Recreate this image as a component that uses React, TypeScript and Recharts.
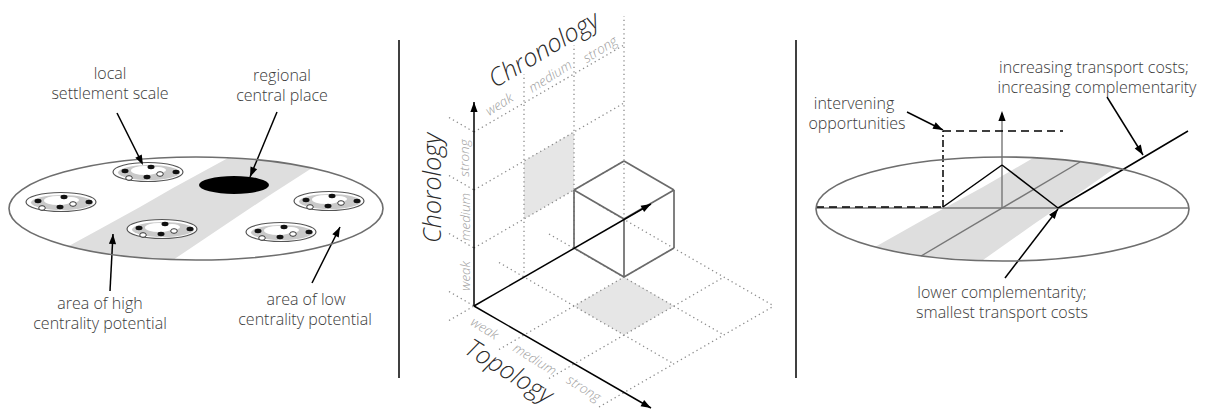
import React from 'react';
import { ComposedChart, XAxis, YAxis, Area, Scatter, ReferenceLine } from 'recharts';

type Seg = [number, number, number, number];

const W = 1207;
const H = 410;

// panel separators
const dividers: Seg[] = [
  [399, 40, 399, 378],
  [796, 40, 796, 378],
];

// ---------- left panel ----------
const regionEllipses = [
  { x: 196, y: 208.5, rx: 187, ry: 51.5 },
  { x: 1002.5, y: 209, rx: 186.5, ry: 52 },
];
const centralPlace = [{ x: 234, y: 185, rx: 35, ry: 9 }];
const settlements = [
  { x: 148, y: 172 },
  { x: 61, y: 202 },
  { x: 162, y: 229 },
  { x: 329, y: 201 },
  { x: 281, y: 232 },
];
const settlementBlackDots = [[-23, -1], [3, -5], [-1, 5], [28, 0]];
const settlementWhiteDots = [[12, 2], [-19, 6]];

// band of high centrality: [top, bottom] per x
const leftBand = [
  { x: 67, band: [247, 247] },
  { x: 100, band: [229, 253] },
  { x: 140, band: [207, 257.5] },
  { x: 173, band: [188, 260] },
  { x: 228, band: [158, 223] },
  { x: 270, band: [161, 195] },
  { x: 312, band: [168, 168] },
];

const arrows: Seg[] = [
  [117, 113, 143, 165],
  [277, 112, 250, 177],
  [110, 291, 113, 234],
  [312, 283, 340, 227],
  [907, 112, 943, 130],
  [1107, 97, 1143, 155],
  [1005, 278, 1058, 209],
];

const leftText = [
  { x: 110, y: 79, text: 'local' },
  { x: 110, y: 99, text: 'settlement scale' },
  { x: 282, y: 81, text: 'regional' },
  { x: 282, y: 101, text: 'central place' },
  { x: 100, y: 309, text: 'area of high' },
  { x: 100, y: 329, text: 'centrality potential' },
  { x: 306, y: 305, text: 'area of low' },
  { x: 305, y: 325, text: 'centrality potential' },
];

// ---------- middle panel ----------
const axes3d: Seg[] = [
  [474, 306, 474, 102],
  [474, 306, 651, 204],
  [474, 306, 651, 408],
];
const floorGrid: Seg[] = [
  [449, 320.5, 474, 306],
  [499, 349.5, 674, 248],
  [549, 378.5, 724, 277],
  [599, 407, 774, 306],
  [449, 291.5, 474, 306],
  [499, 262.5, 674, 364],
  [549, 234, 724, 335],
  [599, 205, 774, 306],
];
const wallGrid: Seg[] = [
  [524, 277, 524, 74],
  [574, 248, 574, 45],
  [624, 219, 624, 16],
  [474, 248, 624, 161],
  [474, 190, 624, 103],
  [474, 132, 624, 45],
  [449, 233.5, 474, 248],
  [449, 175.5, 474, 190],
  [449, 117.5, 474, 132],
];
const cubeEdges: Seg[] = [
  [574, 190, 624, 161],
  [624, 161, 674, 190],
  [674, 190, 624, 219],
  [624, 219, 574, 190],
  [574, 190, 574, 248],
  [624, 219, 624, 277],
  [674, 190, 674, 248],
  [574, 248, 624, 277],
  [624, 277, 674, 248],
];
const wallShade = [
  { x: 524, band: [161, 219] },
  { x: 574, band: [132, 190] },
];
const floorShade = [
  { x: 574, band: [306, 306] },
  { x: 624, band: [277, 335] },
  { x: 674, band: [306, 306] },
];
const axisTitles = [
  { x: 543, y: 48, text: 'Chronology', angle: -31 },
  { x: 431, y: 188, text: 'Chorology', angle: -90 },
  { x: 510, y: 370, text: 'Topology', angle: 32 },
];
const levels = ['weak', 'medium', 'strong'];
const chorologyTicks = [{ x: 465, y: 276 }, { x: 465, y: 217 }, { x: 464, y: 158 }];
const chronologyTicks = [{ x: 499, y: 104 }, { x: 550, y: 76 }, { x: 600, y: 49 }];
const topologyTicks = [{ x: 485, y: 328 }, { x: 535, y: 359 }, { x: 584, y: 388 }];

// ---------- right panel ----------
const rightBand = [
  { x: 875, band: [247, 247] },
  { x: 930, band: [216, 257] },
  { x: 983, band: [187, 260] },
  { x: 1034, band: [157.5, 224] },
  { x: 1075, band: [161, 196] },
  { x: 1115, band: [168, 168] },
];
const rightGray: Seg[] = [
  [816, 208, 1189, 208],
  [921, 256, 1080, 162],
  [1002, 208, 1002, 113],
];
const rightSolid: Seg[] = [
  [943, 207, 1002, 165],
  [1002, 165, 1058, 208],
  [1058, 208, 1188, 131],
];
const rightDashed: Seg[] = [
  [816, 207, 943, 207],
  [943, 131, 1063, 131],
];
const rightDashDot: Seg[] = [[943, 207, 943, 131]];
const rightText = [
  { x: 854, y: 109, text: 'intervening' },
  { x: 857, y: 129, text: 'opportunities' },
  { x: 1094, y: 73, text: 'increasing transport costs;' },
  { x: 1097, y: 93, text: 'increasing complementarity' },
  { x: 1002, y: 298, text: 'lower complementarity;' },
  { x: 1002, y: 318, text: 'smallest transport costs' },
];

const FONT = '"Open Sans", "DejaVu Sans", sans-serif';

const heads = [...arrows, ...axes3d, [1002, 208, 1002, 111] as Seg].map(([x1, y1, x2, y2]) => ({
  x: x2,
  y: y2,
  fx: x1,
  fy: y1,
}));

const ArrowHead = (p: any) => {
  const { cx, cy, payload } = p;
  const a = Math.atan2(payload.y - payload.fy, payload.x - payload.fx);
  const L = 10;
  const w = 3.6;
  const bx = cx - L * Math.cos(a);
  const by = cy - L * Math.sin(a);
  const px = -Math.sin(a) * w;
  const py = Math.cos(a) * w;
  return <polygon points={`${cx},${cy} ${bx + px},${by + py} ${bx - px},${by - py}`} fill="#000" />;
};

const OutlineEllipse = (p: any) => (
  <ellipse cx={p.cx} cy={p.cy} rx={p.payload.rx} ry={p.payload.ry} fill="none" stroke="#6e6e6e" strokeWidth={1.6} />
);
const SolidEllipse = (p: any) => <ellipse cx={p.cx} cy={p.cy} rx={p.payload.rx} ry={p.payload.ry} fill="#000" />;

const Settlement = (p: any) => {
  const { cx, cy } = p;
  return (
    <g>
      <ellipse cx={cx} cy={cy} rx={35} ry={9.5} fill="#fff" stroke="#555" strokeWidth={1.2} />
      <ellipse cx={cx + 1} cy={cy + 0.5} rx={31} ry={7.5} fill="#c9c9c9" />
      <ellipse cx={cx - 3} cy={cy - 1.5} rx={14} ry={4.5} fill="#fff" />
      <ellipse cx={cx + 10} cy={cy - 2} rx={8} ry={3} fill="#fff" />
      {settlementBlackDots.map(([dx, dy], i) => (
        <ellipse key={'b' + i} cx={cx + dx} cy={cy + dy} rx={3.5} ry={2.2} fill="#111" />
      ))}
      {settlementWhiteDots.map(([dx, dy], i) => (
        <ellipse key={'w' + i} cx={cx + dx} cy={cy + dy} rx={3.3} ry={2.3} fill="#fff" stroke="#222" strokeWidth={0.9} />
      ))}
    </g>
  );
};

const PlainText = (p: any) => (
  <text x={p.cx} y={p.cy} textAnchor="middle" fontFamily={FONT} fontWeight={300} fontSize={16} fill="#3a3a3a">
    {p.payload.text}
  </text>
);

const TitleText = (p: any) => (
  <text
    x={p.cx}
    y={p.cy}
    textAnchor="middle"
    dominantBaseline="central"
    fontFamily={FONT}
    fontWeight={300}
    fontStyle="italic"
    fontSize={25}
    fill="#2a2a2a"
    transform={`rotate(${p.payload.angle} ${p.cx} ${p.cy})`}
  >
    {p.payload.text}
  </text>
);

const tickShape = (angle: number) => (p: any) => (
  <text
    x={p.cx}
    y={p.cy}
    textAnchor="middle"
    dominantBaseline="central"
    fontFamily={FONT}
    fontWeight={300}
    fontStyle="italic"
    fontSize={13.5}
    fill="#a0a0a0"
    transform={`rotate(${angle} ${p.cx} ${p.cy})`}
  >
    {p.payload.text}
  </text>
);

const withLevels = (pts: { x: number; y: number }[]) => pts.map((d, i) => ({ ...d, text: levels[i] }));

const segLines = (list: Seg[], key: string, style: any) =>
  list.map((s, i) => (
    <ReferenceLine
      key={key + i}
      segment={[
        { x: s[0], y: s[1] },
        { x: s[2], y: s[3] },
      ]}
      {...style}
    />
  ));

const dotted = { stroke: '#8c8c8c', strokeWidth: 1.3, strokeDasharray: '1.3 3.2' };
const black = { stroke: '#000', strokeWidth: 1.5 };
const gray = { stroke: '#777', strokeWidth: 1.4 };
const cube = { stroke: '#6a6a6a', strokeWidth: 1.7 };

export default function App() {
  return (
    <div style={{ position: 'absolute', left: 0, top: 0, width: W, height: H, background: '#fff' }}>
      <ComposedChart width={W} height={H} margin={{ top: 0, right: 0, bottom: 0, left: 0 }}>
        <XAxis type="number" dataKey="x" domain={[0, W]} hide allowDataOverflow />
        <YAxis type="number" dataKey="y" domain={[0, H]} reversed hide allowDataOverflow />

        <Area data={leftBand} dataKey="band" type="linear" stroke="none" fill="#dedede" fillOpacity={1} isAnimationActive={false} />
        <Area data={rightBand} dataKey="band" type="linear" stroke="none" fill="#dedede" fillOpacity={1} isAnimationActive={false} />
        <Area data={wallShade} dataKey="band" type="linear" stroke="none" fill="#e6e6e6" fillOpacity={1} isAnimationActive={false} />
        <Area data={floorShade} dataKey="band" type="linear" stroke="none" fill="#e6e6e6" fillOpacity={1} isAnimationActive={false} />

        {segLines(dividers, 'div', black)}
        {segLines(floorGrid, 'fg', dotted)}
        {segLines(wallGrid, 'wg', dotted)}
        {segLines(cubeEdges, 'cube', cube)}
        {segLines(axes3d, 'ax', black)}
        {segLines(rightGray, 'rg', gray)}
        {segLines(rightDashed, 'rd', { ...black, strokeDasharray: '8 5' })}
        {segLines(rightDashDot, 'rdd', { ...black, strokeDasharray: '7 3 2 3' })}
        {segLines(rightSolid, 'rs', black)}
        {segLines(arrows, 'ar', black)}

        <Scatter data={regionEllipses} shape={OutlineEllipse} isAnimationActive={false} />
        <Scatter data={centralPlace} shape={SolidEllipse} isAnimationActive={false} />
        <Scatter data={settlements} shape={Settlement} isAnimationActive={false} />
        <Scatter data={heads} shape={ArrowHead} isAnimationActive={false} />

        <Scatter data={leftText} shape={PlainText} isAnimationActive={false} />
        <Scatter data={rightText} shape={PlainText} isAnimationActive={false} />
        <Scatter data={axisTitles} shape={TitleText} isAnimationActive={false} />
        <Scatter data={withLevels(chorologyTicks)} shape={tickShape(-90)} isAnimationActive={false} />
        <Scatter data={withLevels(chronologyTicks)} shape={tickShape(-32)} isAnimationActive={false} />
        <Scatter data={withLevels(topologyTicks)} shape={tickShape(32)} isAnimationActive={false} />
      </ComposedChart>
    </div>
  );
}
